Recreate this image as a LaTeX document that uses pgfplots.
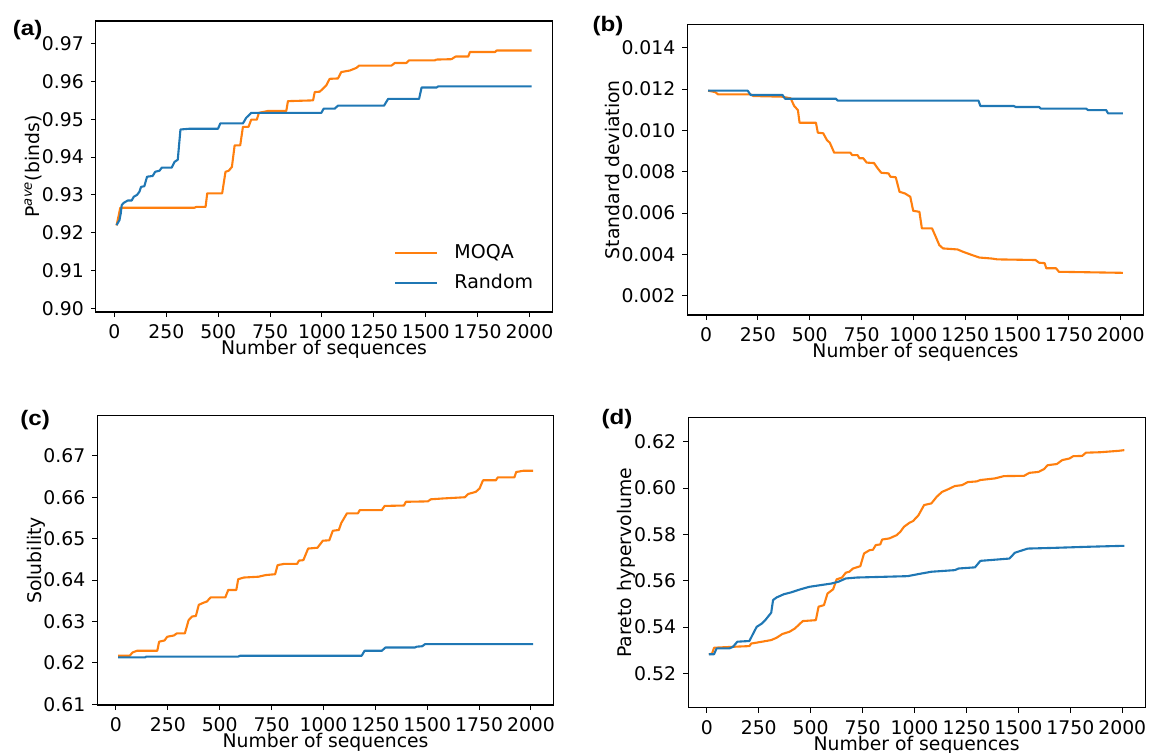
\documentclass[border=0pt]{standalone}
\usepackage{pgfplots}
\pgfplotsset{compat=1.18}
\usepackage{fontspec}
\setmainfont{DejaVu Sans}
\newfontfamily\panelfont{Liberation Sans}
\definecolor{morange}{RGB}{255,127,14}
\definecolor{mblue}{RGB}{31,119,180}
\newcommand{\lfont}{\fontsize{9.4}{11}\selectfont}
\newcommand{\plabel}[1]{\panelfont\bfseries\fontsize{10.5}{12}\selectfont\scalebox{1.15}[1]{#1}}
\pgfplotsset{
  panel/.style={
    scale only axis,
    anchor=south west,
    xmin=-90, xmax=2110,
    xtick={0,250,...,2000},
    tick align=outside,
    major tick length=2.5pt,
    every tick/.style={black, line width=0.5pt},
    axis line style={line width=0.6pt},
    tick pos=left,
    /pgf/number format/assume math mode=true,
    /pgf/number format/1000 sep={},
    xticklabel style={/pgf/number format/fixed, inner sep=0pt, yshift=-3.6pt},
    every tick label/.append style={font=\lfont},
    xlabel={Number of sequences},
    every axis x label/.style={at={(axis description cs:0.5,0)}, anchor=base, yshift=-21.4pt, inner sep=0pt, font=\lfont},
    every axis plot/.append style={line width=1.05pt, line join=round},
  },
  ylab/.style={every axis y label/.style={at={(axis description cs:0,0.5)}, rotate=90, anchor=center, yshift=#1, font=\lfont}},
}
\begin{document}
\begin{tikzpicture}[font=\lfont]
\useasboundingbox (0,0) rectangle (574.5pt,376pt);
% panel labels
\node[inner sep=0pt] at (13.85pt,361pt) {\plabel{(a)}};
\node[inner sep=0pt] at (304pt,363pt) {\plabel{(b)}};
\node[inner sep=0pt] at (17.6pt,166pt) {\plabel{(c)}};
\node[inner sep=0pt] at (308.5pt,166.5pt) {\plabel{(d)}};

% (a)
\begin{axis}[panel, at={(47.9pt,220pt)}, width=228.25pt, height=145.5pt,
  ymin=0.899, ymax=0.976, ytick={0.90,0.91,...,0.971},
  yticklabel style={/pgf/number format/fixed, /pgf/number format/fixed zerofill, /pgf/number format/precision=2},
  ylab=31.25pt,
  ylabel={P\textsuperscript{\itshape ave}(binds)},
  legend style={draw=none, fill=none, at={(0.6532,0.0711)}, anchor=south west, inner sep=0pt, row sep=7pt,
    font=\fontsize{9.5}{11}\selectfont, nodes={inner sep=0pt, text height=7pt, text depth=1pt},
    /tikz/every odd column/.append style={column sep=8pt}},
  legend cell align=left,
  legend image code/.code={\draw[#1] (0pt,0pt) -- (21pt,0pt);},
]
\addplot[morange] coordinates {(10,0.9219) (19,0.9242) (28,0.9266) (386,0.9266) (394,0.9268) (439,0.9268) (447,0.9304) (519,0.9304) (535,0.9361) (551,0.9364) (566,0.9374) (579,0.9431) (606,0.9431) (619,0.948) (646,0.948) (659,0.9499) (686,0.9499) (696,0.9517) (740,0.9522) (828,0.9522) (836,0.9548) (957,0.955) (965,0.9572) (989,0.9573) (1005,0.9581) (1021,0.959) (1037,0.9607) (1077,0.9608) (1093,0.9625) (1134,0.9629) (1166,0.9636) (1179,0.9642) (1335,0.9642) (1351,0.9649) (1407,0.9649) (1420,0.9656) (1544,0.9656) (1552,0.9658) (1624,0.9659) (1644,0.9666) (1705,0.9666) (1713,0.9678) (1834,0.9678) (1842,0.9682) (2010,0.9682)};
\addlegendentry{MOQA}
\addplot[mblue] coordinates {(10,0.922) (24,0.9233) (30,0.925) (35,0.9273) (45,0.9279) (64,0.9285) (83,0.9285) (93,0.9295) (109,0.93) (120,0.9308) (128,0.9321) (144,0.9323) (157,0.9348) (184,0.935) (196,0.9361) (217,0.9364) (228,0.9372) (276,0.9372) (289,0.9387) (305,0.9393) (318,0.9473) (362,0.9475) (499,0.9475) (510,0.9489) (619,0.9489) (635,0.9504) (659,0.9517) (997,0.9517) (1008,0.9528) (1061,0.9528) (1077,0.9536) (1299,0.9536) (1319,0.9554) (1468,0.9554) (1480,0.9584) (1552,0.9584) (1560,0.9587) (2010,0.9587)};
\addlegendentry{Random}
\end{axis}

% (b)
\begin{axis}[panel, at={(343.7pt,218.5pt)}, width=228.05pt, height=145.35pt,
  ymin=0.00107, ymax=0.01513, ytick={0.002,0.004,...,0.0141},
  yticklabel style={/pgf/number format/fixed, /pgf/number format/fixed zerofill, /pgf/number format/precision=3},
  scaled y ticks=false,
  ylab=37.35pt,
  ylabel={Standard deviation},
]
\addplot[morange] coordinates {(10,0.01192) (44,0.01185) (58,0.01174) (215,0.01174) (229,0.01166) (364,0.01163) (381,0.0116) (408,0.01155) (425,0.01118) (443,0.01098) (451,0.01037) (530,0.01037) (539,0.00989) (565,0.00986) (583,0.00953) (597,0.0094) (618,0.00892) (696,0.00892) (705,0.0088) (731,0.0088) (740,0.00865) (758,0.00865) (775,0.00844) (810,0.00842) (828,0.00816) (845,0.00795) (880,0.00792) (889,0.00776) (915,0.00773) (933,0.00703) (959,0.00695) (985,0.00679) (999,0.00611) (1029,0.00606) (1041,0.00526) (1090,0.00526) (1108,0.00485) (1125,0.00445) (1143,0.00429) (1213,0.00424) (1239,0.00413) (1283,0.00397) (1318,0.00385) (1379,0.0038) (1405,0.00376) (1589,0.00373) (1606,0.0036) (1633,0.00358) (1641,0.00333) (1688,0.00333) (1702,0.00316) (2010,0.00311)};
\addplot[mblue] coordinates {(10,0.01192) (201,0.01192) (215,0.01171) (369,0.01171) (381,0.01153) (626,0.01153) (635,0.01144) (1314,0.01144) (1323,0.01118) (1484,0.01118) (1493,0.01113) (1606,0.01113) (1615,0.01105) (1834,0.01105) (1842,0.01098) (1930,0.01098) (1939,0.01082) (2010,0.01082)};
\end{axis}

% (c)
\begin{axis}[panel, at={(48.65pt,23.5pt)}, width=228.25pt, height=144.65pt,
  ymin=0.6098, ymax=0.6797, ytick={0.61,0.62,...,0.671},
  yticklabel style={/pgf/number format/fixed, /pgf/number format/fixed zerofill, /pgf/number format/precision=2},
  ylab=30.7pt,
  ylabel={Solubility},
]
\addplot[morange] coordinates {(10,0.6217) (66,0.6217) (80,0.6225) (101,0.6229) (199,0.6229) (208,0.6251) (234,0.6254) (247,0.6263) (279,0.6266) (293,0.6271) (332,0.6271) (350,0.6303) (367,0.6312) (385,0.6313) (399,0.634) (421,0.6345) (438,0.6348) (456,0.6358) (527,0.6358) (541,0.6376) (580,0.6376) (589,0.6402) (616,0.6406) (687,0.6408) (722,0.6412) (767,0.6414) (779,0.6436) (811,0.6439) (873,0.6439) (882,0.6447) (903,0.6448) (926,0.6476) (971,0.6478) (997,0.6495) (1028,0.6496) (1045,0.6519) (1074,0.6521) (1086,0.6538) (1113,0.6561) (1166,0.6561) (1175,0.6569) (1281,0.6569) (1295,0.6579) (1388,0.6580) (1397,0.6589) (1503,0.6590) (1517,0.6595) (1574,0.6597) (1681,0.6600) (1698,0.6608) (1734,0.6613) (1752,0.6621) (1769,0.6641) (1831,0.6641) (1840,0.6648) (1920,0.6648) (1929,0.6661) (1964,0.6664) (2010,0.6664)};
\addplot[mblue] coordinates {(10,0.6213) (140,0.6213) (146,0.6215) (589,0.6215) (598,0.6217) (1184,0.6217) (1198,0.6229) (1281,0.6229) (1299,0.6237) (1441,0.6237) (1450,0.6239) (1476,0.6240) (1489,0.6245) (2010,0.6245)};
\end{axis}

% (d)
\begin{axis}[panel, at={(344.05pt,22.15pt)}, width=228.5pt, height=145pt,
  ymin=0.5052, ymax=0.6304, ytick={0.52,0.54,...,0.621},
  yticklabel style={/pgf/number format/fixed, /pgf/number format/fixed zerofill, /pgf/number format/precision=2},
  ylab=30.85pt,
  ylabel={Pareto hypervolume},
]
\addplot[morange] coordinates {(10,0.5283) (25,0.5285) (35,0.5311) (126,0.5315) (205,0.5318) (214,0.5329) (266,0.5337) (310,0.5344) (336,0.5354) (363,0.537) (398,0.538) (424,0.5394) (450,0.5416) (462,0.5426) (525,0.543) (538,0.5488) (564,0.5495) (581,0.5545) (608,0.5563) (625,0.5606) (651,0.5614) (669,0.5635) (686,0.5639) (704,0.5653) (739,0.5663) (757,0.5718) (783,0.5732) (800,0.5734) (813,0.5754) (835,0.5757) (844,0.5778) (879,0.5783) (914,0.5797) (932,0.5812) (949,0.5833) (975,0.585) (993,0.5858) (1019,0.5883) (1046,0.5927) (1081,0.5934) (1107,0.5963) (1133,0.5984) (1159,0.5994) (1194,0.6009) (1229,0.6013) (1256,0.6026) (1299,0.6029) (1317,0.6035) (1387,0.6042) (1431,0.6052) (1527,0.6053) (1553,0.6066) (1597,0.607) (1623,0.6082) (1641,0.6099) (1685,0.6104) (1711,0.6121) (1746,0.6128) (1764,0.6138) (1807,0.6139) (1825,0.6153) (1895,0.6155) (1982,0.6161) (2010,0.6164)};
\addplot[mblue] coordinates {(10,0.5283) (35,0.5283) (47,0.5308) (109,0.5308) (126,0.5315) (147,0.5337) (205,0.534) (222,0.537) (240,0.5401) (266,0.5416) (284,0.5433) (310,0.5462) (319,0.5517) (336,0.5528) (371,0.5542) (406,0.555) (450,0.5563) (494,0.5574) (546,0.5581) (599,0.5588) (634,0.5596) (669,0.561) (722,0.5614) (967,0.562) (1019,0.5629) (1081,0.5639) (1194,0.5646) (1212,0.5653) (1291,0.5658) (1317,0.5686) (1457,0.5696) (1483,0.5721) (1510,0.5729) (1545,0.5739) (1667,0.5742) (1842,0.5747) (2010,0.5751)};
\end{axis}
\end{tikzpicture}
\end{document}
